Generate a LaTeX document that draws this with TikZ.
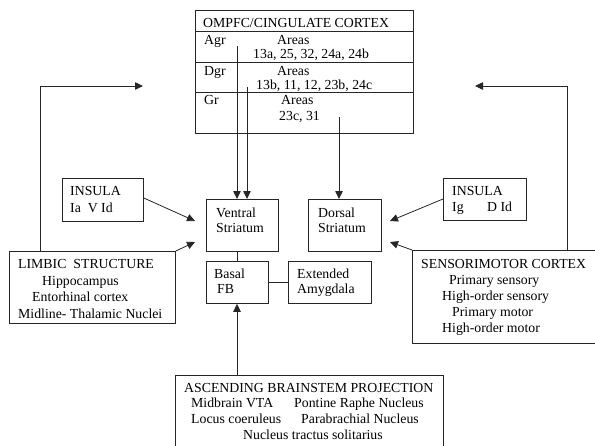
\documentclass[tikz,border=0pt]{standalone}
\usepackage{fontspec}
\setmainfont{Liberation Serif}
\usetikzlibrary{arrows.meta}
\begin{document}
\begin{tikzpicture}[x=1pt,y=1pt,
  box/.style={draw=black!85, line width=0.8pt, anchor=north west, inner sep=0pt},
  txt/.style={anchor=base west, inner sep=0pt, font=\fontsize{13.8}{16}\selectfont},
  link/.style={draw=black!85, line width=0.8pt},
  arr/.style={link, -{Triangle[length=8pt,width=7.5pt]}}]
\useasboundingbox (0,0) rectangle (595,-445);
\clip (0,0) rectangle (595,-445);

% OMPFC / cingulate cortex table
\node[box, minimum width=218pt, minimum height=123pt] (ompfc) at (195,-10) {};
\coordinate (r1w) at (195,-31);  \coordinate (r1e) at (413,-31);
\coordinate (r2w) at (195,-62);  \coordinate (r2e) at (413,-62);
\coordinate (r3w) at (195,-92);  \coordinate (r3e) at (413,-92);
\draw[link] (r1w) -- (r1e);
\draw[link] (r2w) -- (r2e);
\draw[link] (r3w) -- (r3e);
\node[txt] (ttl) at (203,-27) {OMPFC/CINGULATE CORTEX};
\node[txt] (agr) at (204,-44) {Agr};
\node[txt] (agra) at (277,-44) {Areas};
\node[txt] (agrn) at (253,-58) {13a, 25, 32, 24a, 24b};
\node[txt] (dgr) at (204,-75) {Dgr};
\node[txt] (dgra) at (277,-75) {Areas};
\node[txt] (dgrn) at (256,-89) {13b, 11, 12, 23b, 24c};
\node[txt] (gr) at (204,-104) {Gr};
\node[txt] (gra) at (281,-104) {Areas};
\node[txt] (grn) at (279,-120) {23c, 31};

% striatal and forebrain targets
\node[box, minimum width=72pt, minimum height=52pt] (vs) at (206,-199) {};
\node[txt] (vs1) at (216,-217) {Ventral};
\node[txt] (vs2) at (216,-232) {Striatum};
\node[box, minimum width=73pt, minimum height=52pt] (ds) at (308,-199) {};
\node[txt] (ds1) at (318,-217) {Dorsal};
\node[txt] (ds2) at (318,-232) {Striatum};
\node[box, minimum width=62pt, minimum height=42pt] (bfb) at (206,-261) {};
\node[txt] (bfb1) at (214,-278) {Basal};
\node[txt] (bfb2) at (217,-293) {FB};
\node[box, minimum width=83pt, minimum height=42pt] (ea) at (288,-261) {};
\node[txt] (ea1) at (297,-278) {Extended};
\node[txt] (ea2) at (297,-293) {Amygdala};

% insula boxes
\node[box, minimum width=81pt, minimum height=43pt] (insl) at (62,-178) {};
\node[txt] (insl1) at (70,-195) {INSULA};
\node[txt] (insl2) at (70,-212) {Ia\ \ V Id};
\node[box, minimum width=83pt, minimum height=42pt] (insr) at (443,-178) {};
\node[txt] (insr1) at (452,-195) {INSULA};
\node[txt] (insr2) at (452,-211) {Ig};
\node[txt] (insr3) at (487,-211) {D Id};

% limbic structure
\node[box, minimum width=166pt, minimum height=72pt] (limb) at (9,-251) {};
\node[txt] (limb1) at (18,-268) {LIMBIC\ \ STRUCTURE};
\node[txt] (limb2) at (42,-285) {Hippocampus};
\node[txt] (limb3) at (32,-301) {Entorhinal cortex};
\node[txt] (limb4) at (18,-318) {Midline- Thalamic Nuclei};

% sensorimotor cortex
\node[box, minimum width=190pt, minimum height=93pt] (smc) at (412,-250) {};
\node[txt] (smc1) at (421,-268) {SENSORIMOTOR CORTEX};
\node[txt] (smc2) at (449,-284) {Primary sensory};
\node[txt] (smc3) at (442,-300) {High-order sensory};
\node[txt] (smc4) at (452,-316) {Primary motor};
\node[txt] (smc5) at (442,-332) {High-order motor};

% ascending brainstem projection
\node[box, minimum width=268pt, minimum height=80pt] (abp) at (175,-375) {};
\node[txt] (abp1) at (184,-392) {ASCENDING BRAINSTEM PROJECTION};
\node[txt] (abp2) at (191,-407) {Midbrain VTA};
\node[txt] (abp3) at (294,-407) {Pontine Raphe Nucleus};
\node[txt] (abp4) at (191,-423) {Locus coeruleus};
\node[txt] (abp5) at (301,-423) {Parabrachial Nucleus};
\node[txt] (abp6) at (243,-439) {Nucleus tractus solitarius};

% cortical projections to the striatum
\coordinate (agrsrc) at (237,-46);
\coordinate (dgrsrc) at (247,-87);
\coordinate (grsrc) at (339,-117);
\draw[arr] (agrsrc) -- (agrsrc |- vs.north);
\draw[arr] (dgrsrc) -- (dgrsrc |- vs.north);
\draw[arr] (grsrc) -- (grsrc |- ds.north);

% insular and limbic inputs
\coordinate (vstipa) at (195,-221);
\coordinate (vstipb) at (195,-242);
\coordinate (dstipa) at (390,-221);
\coordinate (dstipb) at (390,-242);
\draw[arr] (insl.east |- 0,-198) -- (vstipa);
\draw[arr] (limb.north east) -- (vstipb);
\draw[arr] (insr.west |- 0,-199) -- (dstipa);
\draw[arr] (smc.north west) -- (dstipb);

% ascending feedback towards the prefrontal cortex
\coordinate (lbase) at (40,-251);
\coordinate (ltip) at (143,-86);
\coordinate (rbase) at (567,-250);
\coordinate (rtip) at (475,-86);
\draw[arr] (lbase) |- (ltip);
\draw[arr] (rbase) |- (rtip);

% forebrain links
\draw[link] (vs.south -| agrsrc) -- (bfb.north -| agrsrc);
\draw[link] (bfb.east |- 0,-282) -- (ea.west |- 0,-282);
\draw[arr] (abp.north -| agrsrc) -- (bfb.south -| agrsrc);
\end{tikzpicture}
\end{document}
